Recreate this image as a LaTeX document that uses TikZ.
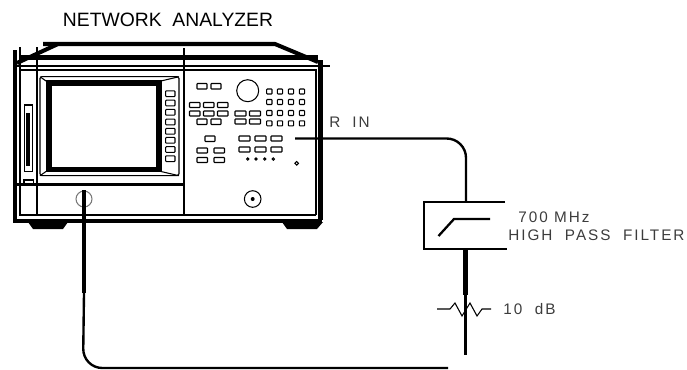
\documentclass[tikz,border=0pt]{standalone}
\usepackage{fontspec}
\usepackage{xcolor}
\setmainfont{Liberation Sans}
\newfontfamily\plotfont[LetterSpace=13]{Liberation Sans}
\usetikzlibrary{positioning, calc}
\definecolor{plotgray}{RGB}{60,60,60}

\begin{document}
\begin{tikzpicture}[
    x=0.02cm, y=-0.02cm,
    heavy/.style={line width=2.3pt},
    medium/.style={line width=1.25pt},
    hair/.style={line width=0.6pt},
    keyrect/.style={draw, hair, rounded corners=0.4pt},
    cable/.style={line width=1.35pt, rounded corners=11pt},
    plotlabel/.style={font=\plotfont\fontsize{8.7}{10}\selectfont, text=plotgray, inner sep=0pt, anchor=west},
    title/.style={font=\fontsize{11}{13}\selectfont, inner sep=0pt}
  ]
    \useasboundingbox (0,0) rectangle (687,369);

    \node[title] (analyzer) at (168,20) {NETWORK\ \ ANALYZER};

    \draw[heavy] (43,44) -- (275,44) -- (318,62);
    \draw[heavy] (58,44) -- (17,63);
    \draw[heavy] (15,50) -- (15,220.7) -- (322,220.7);
    \draw[heavy] (320.5,60) -- (320.5,220);
    \draw[heavy] (19,57.5) -- (318,57.5);
    \draw[medium] (13,66) -- (330,66);
    \draw[hair] (20,70) -- (316,70) -- (316,214.7);
    \draw[medium] (20,47) -- (20,214.7) -- (316,214.7);
    \draw[medium] (36.7,47) -- (36.7,214.7);
    \draw[medium] (184,48) -- (184,214.7);
    \draw[medium] (15,184.5) -- (184,184.5);
    \fill (28,222) -- (68,222) -- (63,229) -- (33,229) -- cycle;
    \fill (282,222) -- (323,222) -- (317,229) -- (287,229) -- cycle;

    \draw[hair, rounded corners=1pt] (40,76.7) rectangle (179,175.7);
    \draw[line width=3.1pt] (48.8,83) rectangle (159,169.5);
    \draw[hair] (40,76.7) -- (46,81) (179,76.7) -- (161,81) (40,175.7) -- (46,171.5) (179,175.7) -- (161,171.5);
    \foreach \ky in {93.7,103,112.3,122,131.3,140.3,149.5,158.7}
      \draw[keyrect] (165.7,\ky-2.9) rectangle (175,\ky+2.9);
    \draw[hair] (24.3,105) rectangle (32.3,171.7);
    \draw[line width=0.8pt] (26.8,113.5) rectangle (28.8,165);
    \draw[hair] (24,184) -- (24,180) -- (33.3,180) -- (33.3,184);

    \foreach \kx/\ky in {197/83.5,211/83.5,197/119,211/119,205/136}
      \draw[keyrect] (\kx,\ky) rectangle ++(10,5.5);
    \foreach \kx in {189.5,203.5,217.5}
      \foreach \ky in {102.5,111}
        \draw[keyrect] (\kx,\ky) rectangle ++(10.5,5);
    \foreach \kx in {235,249.5}
      \foreach \ky in {111,119}
        \draw[keyrect] (\kx,\ky) rectangle ++(11,5);
    \foreach \kx in {197,214}
      \foreach \ky in {148,157.5}
        \draw[keyrect] (\kx,\ky) rectangle ++(10.5,5);
    \foreach \kx in {239,255,271}
      \foreach \ky in {136,147}
        \draw[keyrect] (\kx,\ky) rectangle ++(11,5);
    \foreach \kx in {269.3,280,291,302}
      \foreach \ky in {91.5,102,113,123.3}
        \draw[keyrect] (\kx-2.7,\ky-2.5) rectangle (\kx+2.7,\ky+2.5);
    \foreach \kx in {247.7,256,264.7,273.3}
      \draw[hair] (\kx,159) circle (1.2);
    \draw[hair] (296.7,163.3) circle (1.8);
    \draw[hair] (247.7,90.7) circle (11);
    \draw[hair] (252.7,199) circle (8.3);
    \fill (252.7,199) circle (2);

    \draw[hair, draw=plotgray!70] (84,199) circle (8);
    \coordinate (probe) at (84,190);
    \coordinate (probeend) at (84,293);
    \coordinate (returnend) at (448,368);
    \coordinate (rin) at (295,138.5);
    \coordinate (filtertop) at (466,202);
    \coordinate (filterbottom) at (465.5,249);
    \coordinate (padstop) at (465.5,295);
    \coordinate (padsend) at (465.5,355);

    \draw[line width=2.3pt] (probe) -- (probeend);
    \draw[cable] (probeend) -- (83,368) -- (returnend);
    \draw[cable] (rin) -- (466,138.5) -- (filtertop);
    \draw[line width=2.3pt] (filterbottom) -- (padstop);
    \draw[line width=1.5pt] (padstop) -- (padsend);

    \draw[line width=1.5pt] (505,202) -- (424,202) -- (424,249) -- (507,249);
    \draw[line width=1.3pt] (438.5,236) -- (454,219) -- (490,219);
    \draw[hair] (437,309) -- (450,309) -- (455,303) -- (462,316) -- (470,303) -- (477,316) -- (482,309) -- (491,309);

    \node[plotlabel] (rlabel) at (329,122.5) {R};
    \node[plotlabel] (inlabel) at (352,122.5) {IN};
    \node[plotlabel] (freq) at (518,217) {700 MHz};
    \node[plotlabel] (filtername) at (508,235.7) {HIGH\ \ PASS\ \ FILTER};
    \node[plotlabel] (padlabel) at (503,309) {10\ \ dB};
  \end{tikzpicture}
\end{document}
